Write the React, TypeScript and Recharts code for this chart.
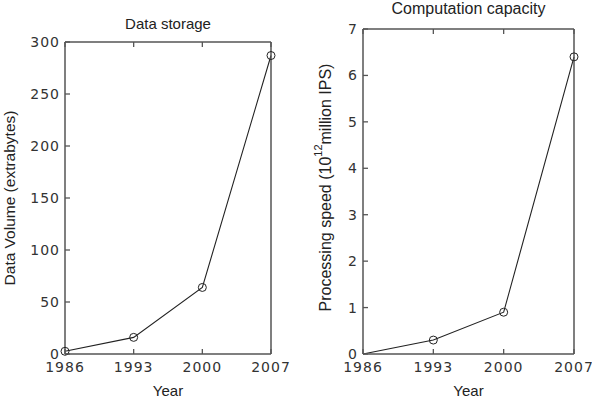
import { LineChart, Line, XAxis, YAxis } from "recharts";

const years = [1986, 1993, 2000, 2007];
const storageValues = [2.6, 16, 64, 287];
const computeValues = [0, 0.3, 0.9, 6.4];
const storageTicks = [0, 50, 100, 150, 200, 250, 300];
const computeTicks = [0, 1, 2, 3, 4, 5, 6, 7];

const storageData = years.map((year, i) => ({ year, value: storageValues[i] }));
const computeData = years.map((year, i) => ({ year, value: computeValues[i] }));

const frame = "#555";
const ink = "#222";
const labelFont = "Liberation Sans";
const tickText = { fontFamily: "DejaVu Sans", fontSize: 14, fill: "#333", letterSpacing: 1 };

// MATLAB style: tick marks point into the plot box
const BottomTick = ({ x, y, payload }: any) => (
  <g>
    <line x1={x} x2={x} y1={y} y2={y - 5} stroke={frame} strokeWidth={1.3} />
    <text x={x} y={y + 18} textAnchor="middle" {...tickText}>{payload.value}</text>
  </g>
);
const LeftTick = ({ x, y, payload }: any) => (
  <g>
    <line x1={x} x2={x + 5} y1={y} y2={y} stroke={frame} strokeWidth={1.3} />
    <text x={x - 5} y={y + 5} textAnchor="end" {...tickText}>{payload.value}</text>
  </g>
);
const TopTick = ({ x, y }: any) => <line x1={x} x2={x} y1={y} y2={y + 5} stroke={frame} strokeWidth={1.3} />;
const RightTick = ({ x, y }: any) => <line x1={x} x2={x - 5} y1={y} y2={y} stroke={frame} strokeWidth={1.3} />;

const StorageLabel = ({ viewBox }: any) => {
  const cx = viewBox.x + 9;
  const cy = viewBox.y + viewBox.height / 2;
  return (
    <text x={cx} y={cy} transform={`rotate(-90 ${cx} ${cy})`} textAnchor="middle" dominantBaseline="central"
      fontFamily={labelFont} fontSize={15.5} fill={ink}>
      Data Volume (extrabytes)
    </text>
  );
};

const ComputeLabel = ({ viewBox }: any) => {
  const cx = viewBox.x + 25;
  const cy = viewBox.y + viewBox.height / 2 - 4;
  return (
    <text x={cx} y={cy} transform={`rotate(-90 ${cx} ${cy})`} textAnchor="middle" dominantBaseline="central"
      fontFamily={labelFont} fontSize={16} fill={ink}>
      Processing speed  (10
      <tspan dy={-7} fontSize={11}>12</tspan>
      <tspan dy={7}>million IPS)</tspan>
    </text>
  );
};

const circleDot = (props: any) => {
  const { cx, cy, index } = props;
  return <circle key={`d-${index}`} cx={cx} cy={cy} r={4} fill="none" stroke={ink} strokeWidth={1} />;
};

const computeDot = (props: any) => {
  const { cx, cy, index } = props;
  if (index === 0) return <g key={`d-${index}`} />;
  return <circle key={`d-${index}`} cx={cx} cy={cy} r={4} fill="none" stroke={ink} strokeWidth={1} />;
};

const axisCommon = {
  axisLine: { stroke: frame, strokeWidth: 1.5 },
  tickLine: false,
  tickSize: 0,
  tickMargin: 0,
  interval: 0 as const,
};

const yearLabel = {
  value: "Year",
  position: "insideBottom" as const,
  offset: 4,
  style: { fontFamily: labelFont, fontSize: 15, fill: ink },
};

export default function App() {
  return (
    <div style={{ position: "absolute", left: 0, top: 0, width: 592, height: 400, background: "#fff", overflow: "hidden" }}>
      <div style={{ position: "absolute", left: 65, width: 206, top: 15, textAlign: "center", fontFamily: labelFont, fontSize: 15, color: ink }}>
        Data storage
      </div>
      <div style={{ position: "absolute", left: 363, width: 211, top: 0, textAlign: "center", fontFamily: labelFont, fontSize: 16, color: ink }}>
        Computation capacity
      </div>

      <div style={{ position: "absolute", left: 0, top: 0 }}>
        <LineChart width={300} height={400} data={storageData} margin={{ top: 41, right: 28, bottom: 0, left: 0 }}>
          <XAxis xAxisId="b" dataKey="year" type="number" domain={[1986, 2007]} ticks={years} {...axisCommon}
            height={46} tick={<BottomTick />} label={yearLabel} />
          <XAxis xAxisId="t" orientation="top" dataKey="year" type="number" domain={[1986, 2007]} ticks={years}
            {...axisCommon} height={1} tick={<TopTick />} />
          <YAxis yAxisId="l" domain={[0, 300]} ticks={storageTicks} {...axisCommon} width={65}
            tick={<LeftTick />} label={<StorageLabel />} />
          <YAxis yAxisId="r" orientation="right" domain={[0, 300]} ticks={storageTicks} {...axisCommon} width={1}
            tick={<RightTick />} />
          <Line xAxisId="b" yAxisId="l" dataKey="value" stroke={ink} strokeWidth={1.1} dot={circleDot}
            isAnimationActive={false} />
        </LineChart>
      </div>

      <div style={{ position: "absolute", left: 300, top: 0 }}>
        <LineChart width={292} height={400} data={computeData} margin={{ top: 28, right: 17, bottom: 0, left: 0 }}>
          <XAxis xAxisId="b" dataKey="year" type="number" domain={[1986, 2007]} ticks={years} {...axisCommon}
            height={46} tick={<BottomTick />} label={yearLabel} />
          <XAxis xAxisId="t" orientation="top" dataKey="year" type="number" domain={[1986, 2007]} ticks={years}
            {...axisCommon} height={1} tick={<TopTick />} />
          <YAxis yAxisId="l" domain={[0, 7]} ticks={computeTicks} {...axisCommon} width={63}
            tick={<LeftTick />} label={<ComputeLabel />} />
          <YAxis yAxisId="r" orientation="right" domain={[0, 7]} ticks={computeTicks} {...axisCommon} width={1}
            tick={<RightTick />} />
          <Line xAxisId="b" yAxisId="l" dataKey="value" stroke={ink} strokeWidth={1.1} dot={computeDot}
            isAnimationActive={false} />
        </LineChart>
      </div>
    </div>
  );
}
